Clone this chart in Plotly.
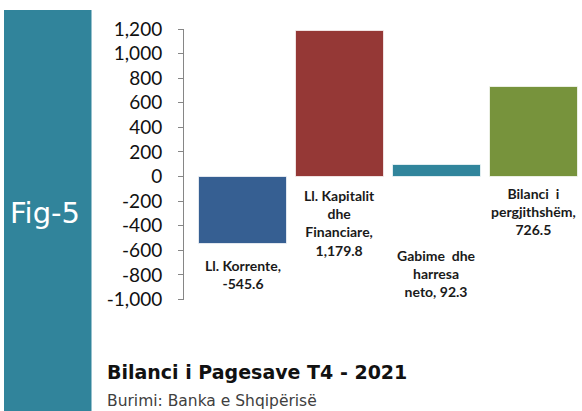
import plotly.graph_objects as go

# --- data ---------------------------------------------------------------
categories = ["Ll. Korrente", "Ll. Kapitalit dhe Financiare",
              "Gabime dhe harresa neto", "Bilanci i pergjithshëm"]
values = [-545.6, 1179.8, 92.3, 726.5]
bar_colors = ["#365F92", "#953836", "#31859C", "#77933C"]
label_lines = [
    ["Ll. Korrente,", "-545.6"],
    ["Ll. Kapitalit", "dhe", "Financiare,", "1,179.8"],
    ["Gabime  dhe", "harresa", "neto, 92.3"],
    ["Bilanci  i", "pergjithshëm,", "726.5"],
]
# top of each data label block (y in axis units, hand placed like the original)
label_tops = [-637, -69, -557, -53]

tick_vals = list(range(-1000, 1201, 200))
tick_text = [f"{v:,}" for v in tick_vals]

W, H = 582, 411

fig = go.Figure()

fig.add_trace(go.Bar(
    x=list(range(len(categories))), y=values,
    marker=dict(color=bar_colors, line=dict(color="rgba(255,255,255,0.7)", width=1)),
    width=0.91,
    hoverinfo="skip",
))

# data labels
for i, lines in enumerate(label_lines):
    fig.add_annotation(
        x=i, y=label_tops[i], xref="x", yref="y",
        text="<br>".join(lines), showarrow=False,
        yanchor="top", xanchor="center", align="center",
        font=dict(family="Lato, Open Sans, sans-serif", size=14, color="#1a1a1a", weight="bold"),
    )

# teal side band + label
fig.add_shape(type="rect", xref="paper", yref="paper",
              x0=4 / W, x1=91.5 / W, y0=0, y1=(H - 10) / H,
              fillcolor="#31849B", line=dict(width=0), layer="below")
fig.add_annotation(x=45 / W, y=(H - 213) / H, xref="paper", yref="paper",
                   text="Fig-5", showarrow=False, xanchor="center", yanchor="middle",
                   font=dict(family="DejaVu Sans, sans-serif", size=29, color="white"))

# title + source
fig.add_annotation(x=105 / W, y=(H - 372) / H, xref="paper", yref="paper",
                   text="<b>Bilanci i Pagesave T4 - 2021</b>", showarrow=False,
                   xanchor="left", yanchor="middle",
                   font=dict(family="DejaVu Sans, sans-serif", size=19, color="#111111"))
fig.add_annotation(x=105 / W, y=(H - 401) / H, xref="paper", yref="paper",
                   text="Burimi: Banka e Shqipërisë", showarrow=False,
                   xanchor="left", yanchor="middle",
                   font=dict(family="DejaVu Sans, sans-serif", size=15.5, color="#404040"))

fig.update_layout(
    width=W, height=H,
    margin=dict(l=0, r=0, t=0, b=0, autoexpand=False),
    paper_bgcolor="white", plot_bgcolor="white",
    showlegend=False,
    bargap=0,
    xaxis=dict(
        domain=[184 / W, 1], range=[-0.61, 3.5],
        showticklabels=False, showgrid=False, zeroline=False, showline=False, ticks="",
    ),
    yaxis=dict(
        domain=[(H - 299.5) / H, (H - 29) / H], range=[-1000, 1200],
        tickvals=tick_vals, ticktext=tick_text,
        ticks="outside", ticklen=5, tickcolor="#868686",
        ticklabelstandoff=12,
        showline=True, linecolor="#868686", linewidth=1,
        showgrid=False, zeroline=False,
        tickfont=dict(family="Lato, Open Sans, sans-serif", size=19, color="#111111"),
    ),
)

# the page body has a default 8px margin; drop it so the figure sits at (0, 0)
fig.write_html("out.html", config={"displayModeBar": False},
               post_script="document.body.style.margin='0';")
